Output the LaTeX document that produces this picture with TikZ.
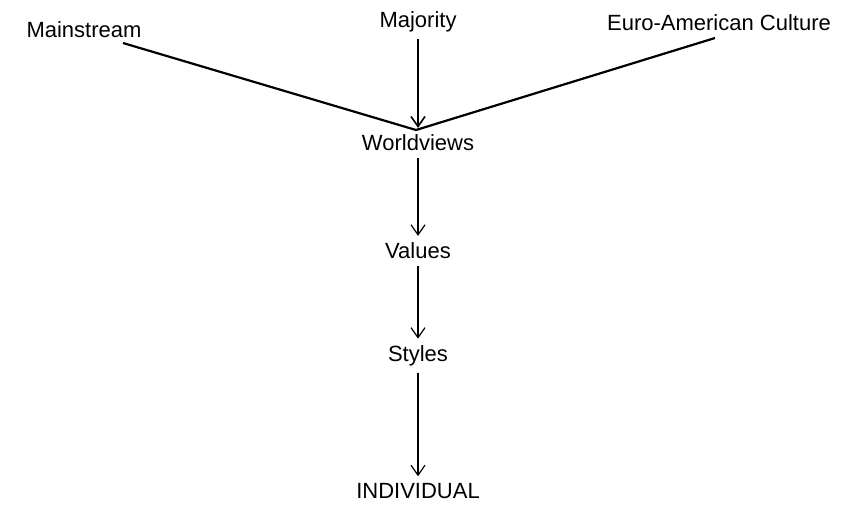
\documentclass[tikz,border=0pt]{standalone}
\usepackage{fontspec}
\setmainfont{Liberation Sans}
\usetikzlibrary{arrows.meta}
\begin{document}
\begin{tikzpicture}[x=0.5pt, y=-0.5pt, >={Straight Barb[length=5pt,width=7pt]}, font=\fontsize{11}{13}\selectfont]
	\useasboundingbox (0, 0) rectangle (855, 504);
	\node (mainstream) at (84, 30) {Mainstream};
	\node (majority) at (418, 22) {Majority};
	\node (euro) at (719, 23) {Euro-American Culture};
	\node (worldviews) at (418, 143) {Worldviews};
	\node (values) at (418, 251) {Values};
	\node (styles) at (418, 356) {Styles};
	\node (individual) at (418, 491) {INDIVIDUAL};
	\coordinate (msfoot) at (123, 43);
	\coordinate (eufoot) at (715, 38);
	\coordinate (join) at (416, 130);
	\draw[line width=1.1pt] (msfoot) -- (join);
	\draw[line width=1.1pt] (eufoot) -- (join);
	\draw[thick, ->] (majority) -- (worldviews);
	\draw[semithick, ->] (worldviews) -- (values);
	\draw[semithick, ->] (values) -- (styles);
	\draw[semithick, ->] (styles) -- (individual);
\end{tikzpicture}
\end{document}
